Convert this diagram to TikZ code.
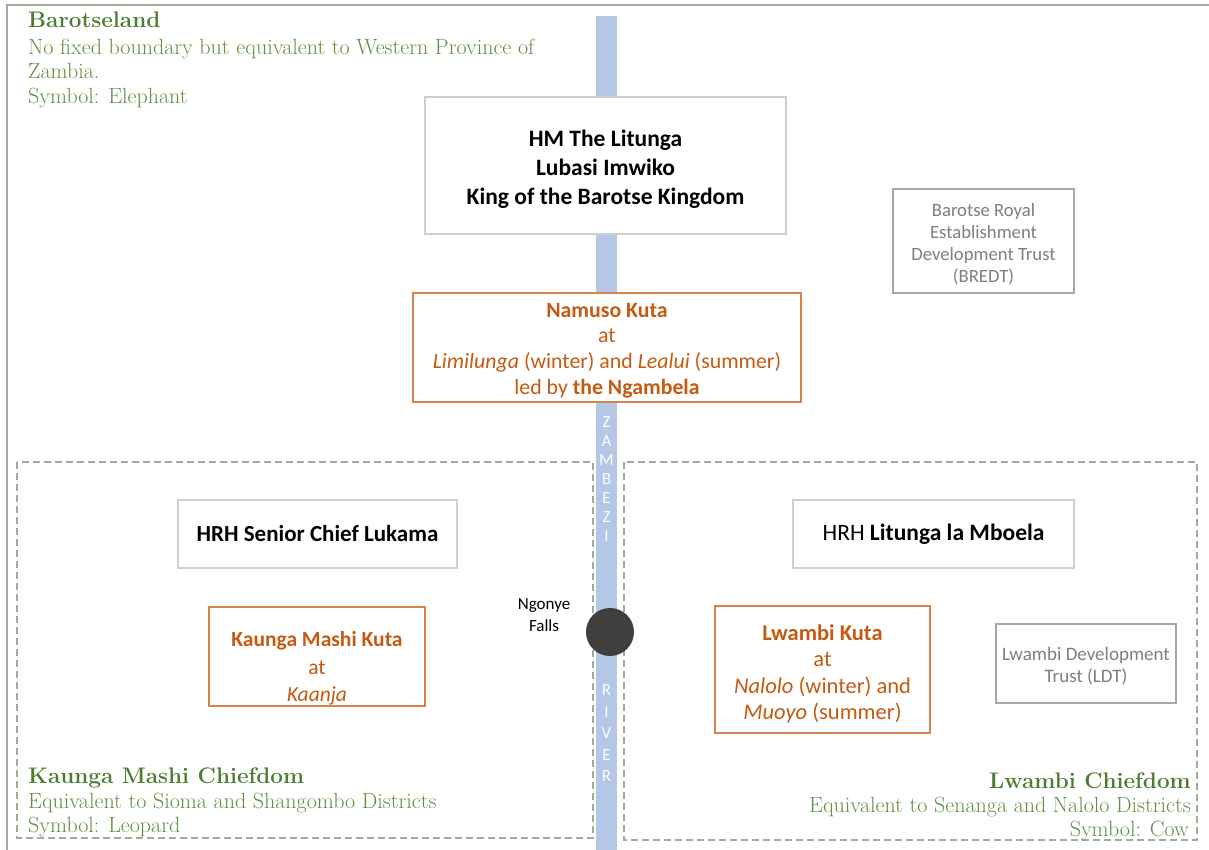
\documentclass[tikz,border=0pt]{standalone}
\usepackage{fontspec}
\newfontfamily\calf{Carlito}
\definecolor{river}{HTML}{B4C7E7}
\definecolor{gtitle}{HTML}{4E7D32}
\definecolor{gtext}{HTML}{5E9140}
\definecolor{frame}{HTML}{A3AD9A}
\definecolor{dashc}{HTML}{9EAE94}
\definecolor{orng}{HTML}{C55A11}
\definecolor{orngb}{HTML}{D7834A}
\definecolor{greyb}{HTML}{A6A6A6}
\definecolor{greylt}{HTML}{CFCFCF}
\definecolor{greyt}{HTML}{7F7F7F}
\definecolor{falls}{HTML}{3F3F3F}
\begin{document}
\begin{tikzpicture}[x=1pt,y=-1pt,
  rect/.style={draw=#1, fill=white, line width=1.3pt, inner sep=0pt},
  dbox/.style={draw=dashc, line width=1.2pt, dash pattern=on 7pt off 4pt},
  river letter/.style={text=white, font=\calf\fontsize{17}{17}\selectfont, inner sep=0pt},
  gt/.style={text=gtitle, font=\fontsize{22.5}{22}\selectfont\bfseries, inner sep=0pt},
  gb/.style={text=gtext, font=\fontsize{22}{22}\selectfont, inner sep=0pt},
]
\useasboundingbox (0,0) rectangle (1209,850);
\fill[white] (0,0) rectangle (1209,850);
% outer frame
\draw[frame, line width=2pt] (1209,5) -- (7,5) -- (7,850);
% river
\fill[river] (596,16) rectangle (617,850);
\foreach \l/\y in {Z/422,A/441,M/460,B/479,E/498,Z/517,I/536}
  \node[river letter] at (606.5,\y) {\l};
\foreach \l/\y in {R/690,I/712,V/733,E/755,R/776}
  \node[river letter] at (606.5,\y) {\l};
% chiefdom dashed boxes
\draw[dbox] (17,462) rectangle (593,838);
\draw[dbox] (624,462) rectangle (1197,840);
% Barotseland text
\node[gt, anchor=base west] (bt) at (28,28) {Barotseland};
\node[gb, anchor=base west] (b1) at (28,55) {No fixed boundary but equivalent to Western Province of};
\node[gb, anchor=base west] (b2) at (28,79) {Zambia.};
\node[gb, anchor=base west] (b3) at (28,104) {Symbol: Elephant};
% Kaunga Mashi
\node[gt, anchor=base west] (k1) at (28,783) {Kaunga Mashi Chiefdom};
\node[gb, anchor=base west] (k2) at (28,808) {Equivalent to Sioma and Shangombo Districts};
\node[gb, anchor=base west] (k3) at (28,832) {Symbol: Leopard};
% Lwambi
\node[gt, anchor=base east] (l1) at (1191,788) {Lwambi Chiefdom};
\node[gb, anchor=base east] (l2) at (1191,812) {Equivalent to Senanga and Nalolo Districts};
\node[gb, anchor=base east] (l3) at (1189,836) {Symbol: Cow};
% King
\node[rect=greylt, minimum width=361pt, minimum height=137pt] (king) at (605.5,165.5) {};
\node[align=center, font=\calf\bfseries\fontsize{23.5}{29}\selectfont, inner sep=0pt] at ([yshift=-4pt]king.center)
  {HM The Litunga\\Lubasi Imwiko\\King of the Barotse Kingdom};
% BREDT
\node[rect=greyb, minimum width=181pt, minimum height=104pt] (bredt) at (983.5,241) {};
\node[align=center, text=greyt, font=\calf\fontsize{18.7}{22}\selectfont, inner sep=0pt] at ([yshift=-3pt]bredt.center)
  {Barotse Royal\\Establishment\\Development Trust\\(BREDT)};
% Namuso
\node[rect=orngb, minimum width=388pt, minimum height=109pt] (namuso) at (607,347.5) {};
\node[align=center, text=orng, font=\calf\fontsize{21.8}{25.7}\selectfont, inner sep=0pt] at ([yshift=-3pt]namuso.center)
  {\textbf{Namuso Kuta}\\at\\\textit{Limilunga} (winter) and \textit{Lealui} (summer)\\led by \textbf{the Ngambela}};
% Lukama
\node[rect=greylt, minimum width=279pt, minimum height=68pt, font=\calf\bfseries\fontsize{23}{24}\selectfont] (lukama) at (317.5,534) {HRH Senior Chief Lukama};
% Mboela
\node[rect=greylt, minimum width=281pt, minimum height=68pt, font=\calf\fontsize{23.5}{24}\selectfont] (mboela) at (933.5,534) {HRH \textbf{Litunga la Mboela}};
% Kaunga kuta
\node[rect=orngb, minimum width=216pt, minimum height=99pt] (kkuta) at (317,656.5) {};
\node[align=center, text=orng, font=\calf\fontsize{21.5}{27.5}\selectfont, inner sep=0pt] at ([yshift=-12pt]kkuta.center)
  {\textbf{Kaunga Mashi Kuta}\\at\\\textit{Kaanja}};
% Lwambi kuta
\node[rect=orngb, minimum width=215pt, minimum height=127pt] (lkuta) at (822.5,669.5) {};
\node[align=center, text=orng, font=\calf\fontsize{22.5}{26.3}\selectfont, inner sep=0pt] at ([yshift=-4.5pt]lkuta.center)
  {\textbf{Lwambi Kuta}\\at\\\textit{Nalolo} (winter) and\\\textit{Muoyo} (summer)};
% LDT
\node[rect=greyb, minimum width=180pt, minimum height=79pt] (ldt) at (1086,663.5) {};
\node[align=center, text=greyt, font=\calf\fontsize{19}{22}\selectfont, inner sep=0pt] at ([yshift=-2.5pt]ldt.center)
  {Lwambi Development\\Trust (LDT)};
% Ngonye Falls
\node[circle, fill=falls, minimum size=48pt, inner sep=0pt] (falls) at (610,632) {};
\node[align=center, font=\calf\fontsize{17}{22}\selectfont, inner sep=0pt] (fallslbl) at (544,615) {Ngonye\\Falls};
\end{tikzpicture}
\end{document}
